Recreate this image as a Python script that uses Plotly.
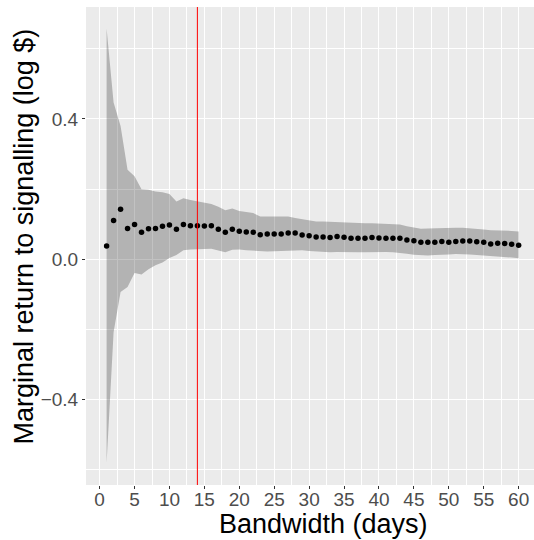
import plotly.graph_objects as go

bandwidth = list(range(1, 61))

estimate = [0.038, 0.111, 0.143, 0.088, 0.099, 0.077, 0.087, 0.088, 0.094, 0.098,
            0.086, 0.099, 0.096, 0.096, 0.095, 0.096, 0.086, 0.077, 0.086, 0.080,
            0.078, 0.077, 0.070, 0.072, 0.072, 0.072, 0.075, 0.075, 0.069, 0.067,
            0.064, 0.064, 0.062, 0.065, 0.063, 0.060, 0.060, 0.060, 0.062, 0.061,
            0.060, 0.060, 0.060, 0.055, 0.053, 0.049, 0.049, 0.049, 0.051, 0.049,
            0.051, 0.052, 0.052, 0.050, 0.049, 0.044, 0.046, 0.045, 0.043, 0.040]

upper = [0.658, 0.447, 0.380, 0.255, 0.237, 0.200, 0.198, 0.193, 0.191, 0.186,
         0.165, 0.174, 0.169, 0.166, 0.161, 0.158, 0.150, 0.140, 0.145, 0.138,
         0.135, 0.132, 0.122, 0.122, 0.122, 0.122, 0.122, 0.118, 0.115, 0.112,
         0.108, 0.108, 0.107, 0.106, 0.104, 0.103, 0.103, 0.103, 0.103, 0.102,
         0.101, 0.100, 0.099, 0.094, 0.090, 0.087, 0.088, 0.089, 0.089, 0.089,
         0.090, 0.090, 0.089, 0.088, 0.085, 0.083, 0.083, 0.082, 0.081, 0.079]

lower = [-0.580, -0.208, -0.093, -0.079, -0.039, -0.043, -0.028, -0.017, -0.009, 0.004,
         0.012, 0.026, 0.028, 0.029, 0.030, 0.030, 0.025, 0.020, 0.027, 0.028,
         0.026, 0.024, 0.022, 0.022, 0.023, 0.024, 0.025, 0.026, 0.026, 0.024,
         0.022, 0.021, 0.020, 0.021, 0.020, 0.020, 0.020, 0.020, 0.021, 0.021,
         0.021, 0.020, 0.019, 0.016, 0.013, 0.011, 0.011, 0.012, 0.014, 0.014,
         0.015, 0.015, 0.014, 0.012, 0.011, 0.009, 0.008, 0.007, 0.005, 0.003]

chosen_bandwidth = 14

x_tickvals = [0, 5, 10, 15, 20, 25, 30, 35, 40, 45, 50, 55, 60]
x_ticktext = [str(v) for v in x_tickvals]
y_tickvals = [-0.4, 0.0, 0.4]
y_ticktext = ["\u22120.4", "0.0", "0.4"]

x_title = "Bandwidth (days)"
y_title = "Marginal return to signalling (log $)"

FONT = "Liberation Sans, Arial, sans-serif"
TICK_SIZE = 19
TITLE_SIZE = 27

fig = go.Figure()
fig.add_trace(go.Scatter(x=bandwidth, y=lower, mode="lines", line=dict(width=0),
                         showlegend=False, hoverinfo="skip"))
fig.add_trace(go.Scatter(x=bandwidth, y=upper, mode="lines", line=dict(width=0),
                         fill="tonexty", fillcolor="rgba(0,0,0,0.24)",
                         showlegend=False, hoverinfo="skip"))
fig.add_trace(go.Scatter(x=bandwidth, y=estimate, mode="markers",
                         marker=dict(color="black", size=5.5),
                         showlegend=False))
fig.add_vline(x=chosen_bandwidth, line=dict(color="red", width=1))

fig.add_annotation(text=x_title, xref="paper", yref="paper", x=0.53, y=0,
                   xanchor="center", yanchor="top", yshift=-22, showarrow=False,
                   font=dict(size=TITLE_SIZE, color="black", family=FONT))
fig.add_annotation(text=y_title, xref="paper", yref="paper", x=0, y=0.52,
                   xanchor="center", yanchor="middle", xshift=-62, textangle=-90,
                   showarrow=False,
                   font=dict(size=TITLE_SIZE, color="black", family=FONT))

fig.update_layout(
    width=534, height=540,
    margin=dict(l=86, r=0, t=7, b=55),
    paper_bgcolor="white", plot_bgcolor="#EBEBEB",
    font=dict(family=FONT),
    xaxis=dict(
        range=[-1.95, 62.2], tickvals=x_tickvals, ticktext=x_ticktext,
        showgrid=True, gridcolor="white", gridwidth=1.1, zeroline=False,
        ticks="outside", ticklen=3, tickcolor="#333333", tickwidth=1,
        ticklabelstandoff=-6,
        tickfont=dict(size=TICK_SIZE, color="#4D4D4D", family=FONT),
        minor=dict(dtick=2.5, tick0=0, showgrid=True, gridcolor="white", gridwidth=0.55, ticks=""),
        showline=False, automargin=False,
    ),
    yaxis=dict(
        range=[-0.643, 0.719], tickvals=y_tickvals, ticktext=y_ticktext,
        showgrid=True, gridcolor="white", gridwidth=1.1, zeroline=False,
        ticks="outside", ticklen=3, tickcolor="#333333", tickwidth=1,
        tickfont=dict(size=TICK_SIZE, color="#4D4D4D", family=FONT),
        minor=dict(dtick=0.2, tick0=0, showgrid=True, gridcolor="white", gridwidth=0.55, ticks=""),
        showline=False, automargin=False,
    ),
)

fig.write_html(
    "out.html",
    config={"displayModeBar": False},
    post_script="document.body.style.margin='0';document.body.style.overflow='hidden';",
)
